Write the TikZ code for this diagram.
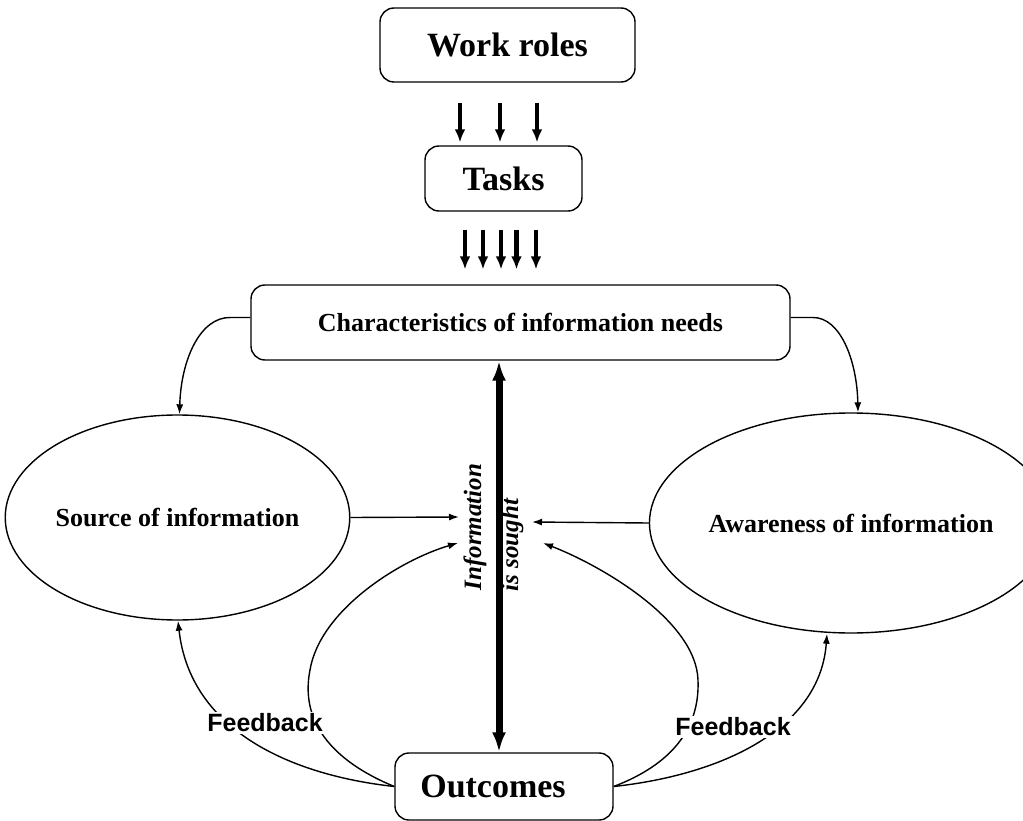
\documentclass[tikz,border=0pt]{standalone}
\usepackage{fontspec}
\setmainfont{Liberation Serif}
\newfontfamily\feedfont{Liberation Sans}
\usetikzlibrary{shapes.geometric,arrows.meta}

\begin{document}
\begin{tikzpicture}[x=1pt,y=-1pt,line width=1.4pt,
  box/.style={draw,rounded corners=14pt,font=\fontsize{34}{40}\selectfont\bfseries},
  oval/.style={draw,ellipse,inner sep=0pt,font=\fontsize{26}{31}\selectfont\bfseries},
  link/.style={-{Latex[length=10pt,width=7pt]}},
  fat/.style={line width=4.5pt,-{Latex[length=13pt,width=11pt]}},
  turned/.style={rotate=90,anchor=west,inner sep=0pt,font=\fontsize{25}{30}\selectfont\bfseries\itshape},
  feed/.style={fill=white,inner sep=2pt,font=\feedfont\bfseries\fontsize{25}{30}\selectfont}]
\useasboundingbox (0,0) rectangle (1023,821);
\node [box,minimum width=255pt,minimum height=74pt] (roles) at (507.5,45) {Work roles};
\node [box,minimum width=157pt,minimum height=65pt] (tasks) at (503.5,178.5) {Tasks};
\node [box,font=\fontsize{26}{31}\selectfont\bfseries,minimum width=539pt,minimum height=75pt] (needs) at (520.5,322.5) {Characteristics of information needs};
\node [oval,minimum width=329pt,minimum height=205pt] (source) at (177.5,517.5) {Source of information};
\node [oval,minimum width=342pt,minimum height=220pt] (aware) at (851,523) {Awareness of information};
\node [box,minimum width=218pt,minimum height=67pt] (outcomes) at (504,786.5) {Outcomes\hspace*{22pt}};
\foreach \dx in {-47.5,-7.5,29.5}
  \draw [fat,shorten <=20pt,shorten >=3pt] ([xshift=\dx pt]roles.south) -- ([xshift=\dx pt]roles.south |- tasks.north);
\foreach \dx in {-38.5,-20.5,-2.5,13,32.5}
  \draw [fat,shorten <=18pt,shorten >=15pt] ([xshift=\dx pt]tasks.south) -- ([xshift=\dx pt]tasks.south |- needs.north);
\coordinate (axis) at (499,0);
\draw [line width=7pt,{Latex[length=20pt,width=14pt]}-{Latex[length=20pt,width=14pt]}] (axis |- needs.south) -- (axis |- outcomes.north);
\node [turned] (infotext) at (475,591) {Information};
\node [turned] (soughttext) at (512,592) {is sought};
\coordinate (infoL) at (459,517);
\coordinate (infoR) at (532,522);
\coordinate (infoLL) at (458,543);
\coordinate (infoRR) at (543,543);
\draw [link] ([yshift=5pt]needs.west) -- ++(-20,0) .. controls (200,317) and (181,360) .. ([xshift=2pt]source.north);
\draw [link] ([yshift=5pt]needs.east) -- ++(22,0) .. controls (840,317) and (857,360) .. ([xshift=7pt]aware.north);
\draw [link] (source.east) -- (infoL);
\draw [link] (aware.west) -- (infoR);
\draw [link] (outcomes.west) .. controls (290,775) and (190,730) .. ([xshift=0.5pt]source.south);
\draw [link] (outcomes.west) .. controls (330,760) and (300,720) .. (310,670) .. controls (320,610) and (400,560) .. (infoLL);
\draw [link] (outcomes.east) .. controls (720,775) and (820,730) .. ([xshift=-24pt]aware.south);
\draw [link] (outcomes.east) .. controls (670,765) and (700,730) .. (698,680) .. controls (696,620) and (600,565) .. (infoRR);
\node [feed] (fbL) at (265,723) {Feedback};
\node [feed] (fbR) at (733,727) {Feedback};
\end{tikzpicture}
\end{document}
